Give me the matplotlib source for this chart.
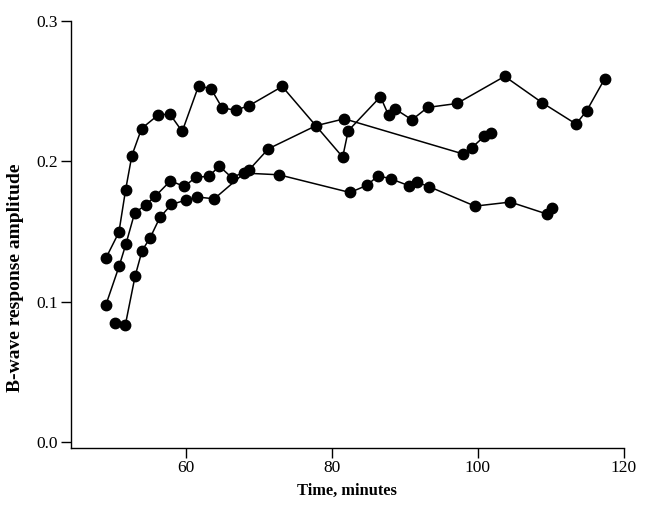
import numpy as np
import matplotlib
matplotlib.use("Agg")
import matplotlib.pyplot as plt

# three recordings, time in minutes vs B-wave amplitude
t1 = [49.08, 50.86, 51.78, 52.64, 53.97, 56.16, 57.81, 59.53, 61.78, 63.47, 65.01,
      66.85, 68.67, 73.23, 81.51, 82.27, 86.68, 87.81, 88.63, 91.0, 93.15, 97.16,
      103.70, 108.85, 113.47, 114.93, 117.40]
a1 = [0.1311, 0.1495, 0.1797, 0.2041, 0.2233, 0.2326, 0.2338, 0.2212, 0.2537, 0.2516,
      0.2379, 0.2364, 0.2395, 0.2532, 0.2030, 0.2217, 0.2459, 0.2326, 0.2374, 0.2295,
      0.2383, 0.2411, 0.2604, 0.2416, 0.2265, 0.2359, 0.2587]

t2 = [49.08, 50.90, 51.82, 53.01, 54.56, 55.84, 57.92, 59.81, 61.44, 63.19, 64.60,
      66.34, 68.71, 71.34, 77.85, 81.73, 97.95, 99.18, 100.90, 101.78]
a2 = [0.0979, 0.1255, 0.1411, 0.1631, 0.1692, 0.1751, 0.1861, 0.1821, 0.1888, 0.1892,
      0.1966, 0.1883, 0.1940, 0.2089, 0.2253, 0.2302, 0.2053, 0.2096, 0.2177, 0.2201]

t3 = [50.32, 51.73, 53.08, 54.04, 55.14, 56.48, 58.05, 60.04, 61.59, 63.92, 68.03,
      72.78, 82.51, 84.79, 86.38, 88.12, 90.59, 91.64, 93.37, 99.63, 104.47, 109.53, 110.18]
a3 = [0.0847, 0.0833, 0.1183, 0.1365, 0.1456, 0.1601, 0.1693, 0.1724, 0.1746, 0.1733,
      0.1916, 0.1904, 0.1778, 0.1828, 0.1897, 0.1875, 0.1826, 0.1852, 0.1819, 0.1681,
      0.1710, 0.1624, 0.1667]

plt.rcParams['font.family'] = ['Liberation Serif', 'DejaVu Serif']

fig = plt.figure(figsize=(6.48, 5.13), dpi=100)
ax = fig.add_axes([0.109, 0.1273, 0.8535, 0.8324])

for t, a in [(t1, a1), (t2, a2), (t3, a3)]:
    ax.plot(t, a, color='black', lw=1.1, marker='o', ms=7.5)

ax.set_xlim(44.25, 120)
ax.set_ylim(-0.0037, 0.3)
ax.set_xticks([60, 80, 100, 120])
ax.set_yticks([0.0, 0.1, 0.2, 0.3])
ax.set_yticklabels(['0.0', '0.1', '0.2', '0.3'])
ax.tick_params(direction='out', length=7, width=1, labelsize=12.5, pad=2)
for s in ['top', 'right']:
    ax.spines[s].set_visible(False)
for s in ['left', 'bottom']:
    ax.spines[s].set_linewidth(1)

ax.set_xlabel('Time, minutes', fontsize=11.8, fontweight='bold', labelpad=5)
ax.set_ylabel('B-wave response amplitude', fontsize=14, fontweight='bold')
ax.yaxis.set_label_coords(-0.085, 0.397)

fig.savefig('out.png', dpi=100)
